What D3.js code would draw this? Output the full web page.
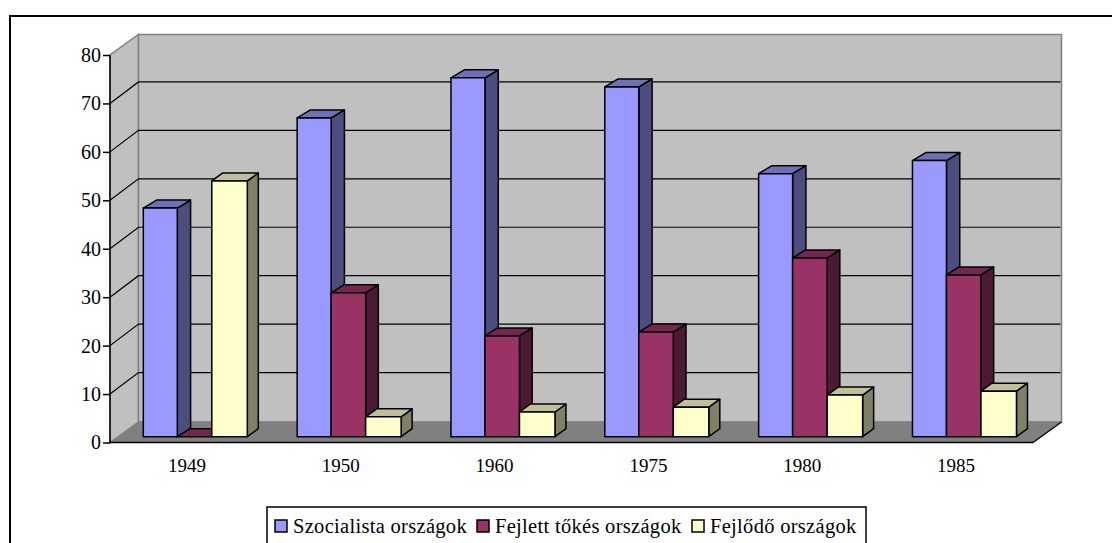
<!DOCTYPE html>
<html><head><meta charset="utf-8">
<script src="https://cdn.jsdelivr.net/npm/d3@7/dist/d3.min.js"></script>
<style>html,body{margin:0;padding:0;background:#fff}svg{display:block}text{font-family:"Liberation Serif",serif;fill:#000}</style>
</head><body><svg id="c" width="1112" height="543"></svg>
<script>
const categories=["1949","1950","1960","1975","1980","1985"];
const seriesNames=["Szocialista országok","Fejlett tőkés országok","Fejlődő országok"];
const szocialista=[47.2,65.8,74.1,72.2,54.3,57];
const fejlett=[0,29.7,20.8,21.6,36.9,33.4];
const fejlodo=[52.8,4.1,5.1,6.1,8.6,9.4];
const yTicks=[0,10,20,30,40,50,60,70,80];
const seriesValues=[szocialista,fejlett,fejlodo];
const fronts=["#9999ff","#993366","#ffffcc"];
const tops=["#7070b8","#732650","#c0c098"];
const sides=["#4d4d80","#4d1a33","#808066"];

const svg=d3.select("#c");
svg.append("path").attr("d","M10,560V16H1112").attr("fill","none").attr("stroke","#000").attr("stroke-width",2);

const x=d3.scaleBand().domain(categories).range([110,1033]);
const y=d3.scaleLinear().domain([0,80]).range([442.5,55]);
const dx=28.5,dy=-20.5;
const path=p=>"M"+p.map(q=>q.join(",")).join("L")+"Z";
const L=x.range()[0],R=x.range()[1],Y0=y(0),Y80=y(80);
svg.append("path").attr("d",path([[L,Y0],[L,Y80],[L+dx,Y80+dy],[L+dx,Y0+dy]])).attr("fill","#c0c0c0").attr("stroke","#808080").attr("stroke-width",1.5);
svg.append("path").attr("d",path([[L+dx,Y80+dy],[R+dx,Y80+dy],[R+dx,Y0+dy],[L+dx,Y0+dy]])).attr("fill","#c0c0c0").attr("stroke","#808080").attr("stroke-width",1.5);
svg.append("path").attr("d",path([[L,Y0],[L+dx,Y0+dy],[R+dx,Y0+dy],[R,Y0]])).attr("fill","#808080").attr("stroke","#808080");
yTicks.filter(t=>t>0&&t<80).forEach(t=>{
  svg.append("path").attr("d",`M${L},${y(t)}L${L+dx},${y(t)+dy-1}L${R+dx-1},${y(t)+dy-1}`).attr("fill","none").attr("stroke","#000").attr("stroke-width",1.2);
});
svg.append("path").attr("d",`M${R},${Y0}L${R+dx},${Y0+dy}`).attr("stroke","#000").attr("stroke-width",1.2);
const barBase=436.7,bdy=-8;
const barScale=d3.scaleLinear().domain([0,80]).range([0,y(0)-y(80)]);
const barW=[34,34.5,35.5],barD=[13.3,12.7,11];
categories.forEach((c,i)=>{
  let cx=x(c)+33.3;
  seriesValues.forEach((vals,s)=>{
    const v=vals[i],h=barScale(v),w=barW[s],bdx=barD[s],t=barBase-h,g=svg.append("g").attr("stroke","#000").attr("stroke-width",1.5).attr("stroke-linejoin","round");
    g.append("path").attr("d",path([[cx+w,barBase],[cx+w+bdx,barBase+bdy],[cx+w+bdx,t+bdy],[cx+w,t]])).attr("fill",sides[s]);
    g.append("path").attr("d",path([[cx,t],[cx+bdx,t+bdy],[cx+w+bdx,t+bdy],[cx+w,t]])).attr("fill",tops[s]);
    g.append("rect").attr("x",cx).attr("y",t).attr("width",w).attr("height",h).attr("fill",fronts[s]);
    cx+=w;
  });
});
const axY=d3.axisLeft(y).tickValues(yTicks).tickSize(7).tickPadding(2);
const gy=svg.append("g").attr("transform",`translate(${L},0)`).call(axY);
const axX=d3.axisBottom(x).tickSize(0).tickPadding(16);
const gx=svg.append("g").attr("transform",`translate(0,${Y0})`).call(axX);
[gy,gx].forEach(g=>{g.selectAll("text").attr("font-family",'"Liberation Serif",serif').attr("fill","#000");g.selectAll("path,line").attr("stroke","#000").attr("stroke-width",1.5);g.attr("font-family",null).attr("font-size",null)});
gy.selectAll("text").style("font-size","20px");
gx.selectAll("text").style("font-size","19px");
gy.select("path").attr("d",`M0,${Y0}V${Y80}`);
gx.select("path").attr("d",`M${L},0H${R}`);
categories.concat(["end"]).forEach((c,i)=>{
  const px=L+i*x.step();
  gx.append("line").attr("x1",px).attr("x2",px).attr("y1",0).attr("y2",6);
});
const lg=svg.append("g");
lg.append("rect").attr("x",267).attr("y",507).attr("width",599).attr("height",40).attr("fill","#fff").attr("stroke","#000").attr("stroke-width",1.5);
const lx=[275,477,692];
seriesNames.forEach((n,i)=>{
  lg.append("rect").attr("x",lx[i]).attr("y",520).attr("width",12).attr("height",12).attr("fill",fronts[i]).attr("stroke","#000").attr("stroke-width",1.5);
  lg.append("text").attr("x",lx[i]+18).attr("y",533).style("font-size","20.5px").style("letter-spacing","0.3px").text(n);
});
</script></body></html>
